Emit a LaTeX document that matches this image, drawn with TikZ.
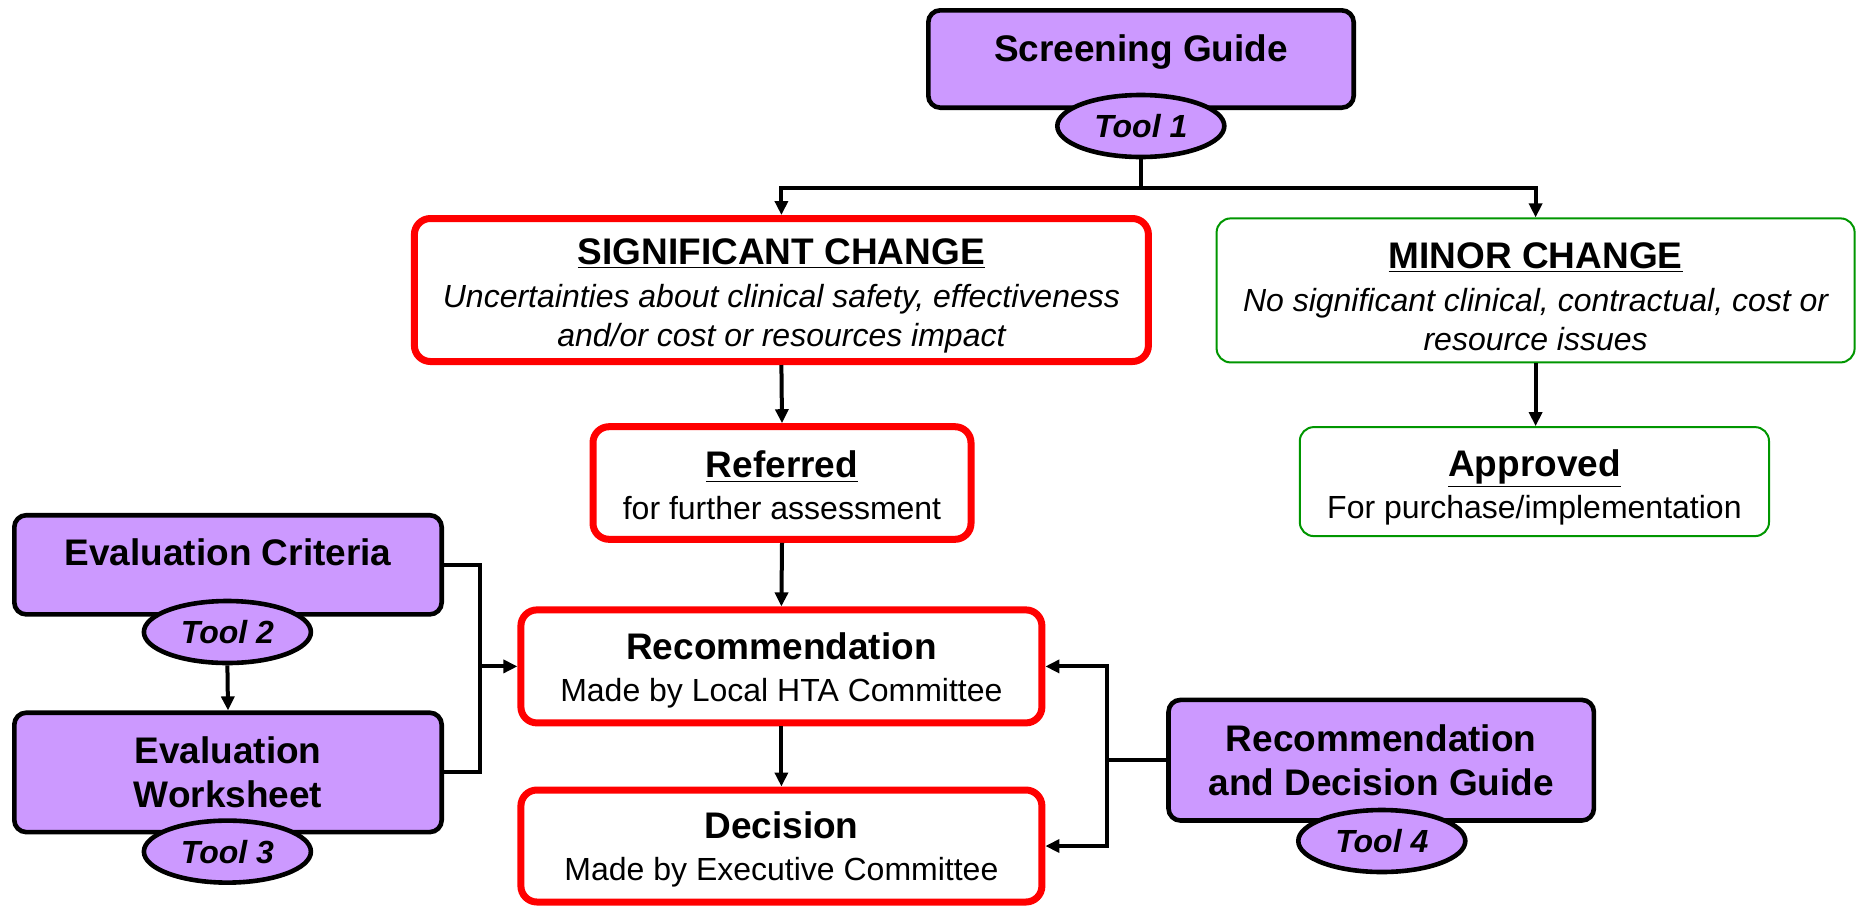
\documentclass[tikz,border=0pt]{standalone}
\usepackage{fontspec}
\setmainfont{Liberation Sans}
\usepackage{tikz}
\usetikzlibrary{shapes.geometric}
\usetikzlibrary{arrows.meta}
\definecolor{toolpurple}{RGB}{204,153,255}
\definecolor{okgreen}{RGB}{0,150,0}
\newcommand{\hdfont}{\fontsize{18.5}{22.2}\selectfont\bfseries}
\newcommand{\txfont}{\fontsize{16}{19.5}\selectfont}
\newcommand{\topgap}[1]{\rule{0pt}{#1}}

\begin{document}
\begin{tikzpicture}[x=1pt, y=-1pt,
  guidebox/.style={draw, line width=2.3pt, fill=toolpurple, rounded corners=6pt,
    align=center, font=\hdfont, inner sep=2pt},
  toolbox/.style={ellipse, draw, line width=2.3pt, fill=toolpurple, inner sep=0pt,
    minimum width=83.5pt, minimum height=31pt, font=\txfont\bfseries\itshape},
  redbox/.style={draw=red, line width=3.5pt, fill=white, rounded corners=8pt,
    align=center, font=\txfont, inner sep=2pt},
  greenbox/.style={draw=okgreen, line width=1pt, fill=white, rounded corners=7pt,
    align=center, font=\txfont, inner sep=2pt},
  wire/.style={line width=2pt},
  link/.style={line width=2pt, -{Triangle[length=7pt,width=6.5pt]}}]
  \useasboundingbox (0,0) rectangle (928.5,453);

  % top
  \node[guidebox, minimum width=212.7pt, minimum height=48.7pt, text depth=11pt]
    (screen) at (570.5,29.5) {Screening Guide};
  \node[toolbox] (tool1) at (570.4,63) {Tool 1};

  \node[redbox, minimum width=367pt, minimum height=71.5pt] (sig) at (390.7,145)
    {{\hdfont\topgap{19pt}\underline{SIGNIFICANT CHANGE}}\\[2pt]
     \itshape Uncertainties about clinical safety, effectiveness\\
     \itshape and/or cost or resources impact};
  \node[greenbox, minimum width=319pt, minimum height=72pt] (minor) at (767.8,145.2)
    {{\hdfont\topgap{19pt}\underline{MINOR CHANGE}}\\[2pt]
     \itshape No significant clinical, contractual, cost or\\
     \itshape resource issues};

  \node[redbox, minimum width=189pt, minimum height=56.3pt] (referred) at (391,241.5)
    {{\hdfont\topgap{16pt}\underline{Referred}}\\[1.5pt] for further assessment};
  \node[greenbox, minimum width=234.6pt, minimum height=54.5pt] (approved) at (767.2,240.8)
    {{\hdfont\topgap{19pt}\underline{Approved}}\\[1.5pt] For purchase/implementation};

  % middle
  \node[redbox, minimum width=260.5pt, minimum height=56.5pt] (rec) at (390.7,333.2)
    {{\hdfont\topgap{17pt}Recommendation}\\[1.5pt] Made by Local HTA Committee};
  \node[redbox, minimum width=260.5pt, minimum height=56pt] (dec) at (390.7,423)
    {{\hdfont\topgap{17pt}Decision}\\[1.5pt] Made by Executive Committee};

  % left tools
  \node[guidebox, minimum width=213.7pt, minimum height=49.6pt, text depth=12.5pt]
    (evalcrit) at (114,282.4) {Evaluation Criteria};
  \node[toolbox] (tool2) at (113.7,316) {Tool 2};
  \node[guidebox, minimum width=213.7pt, minimum height=59.7pt]
    (evalws) at (114,386.2) {Evaluation\\Worksheet};
  \node[toolbox] (tool3) at (113.7,425.8) {Tool 3};

  % right tool
  \node[guidebox, minimum width=212.7pt, minimum height=60.3pt]
    (rdg) at (690.6,380.1) {Recommendation\\and Decision Guide};
  \node[toolbox] (tool4) at (690.9,420.5) {Tool 4};

  % connectors
  \coordinate (split) at (570.4,94.1);
  \draw[wire] (tool1.south) -- (split);
  \draw[link] (split) -| (sig.north);
  \draw[link] (split) -| (minor.north);
  \draw[link] (sig.south) -- (referred.north);
  \draw[link] (minor.south) -- (minor.south |- approved.north);
  \draw[link] (referred.south) -- (rec.north);
  \draw[link] (rec.south) -- (dec.north);
  \draw[link] (tool2.south) -- (evalws.north);

  \coordinate (lbar) at (239.8,333.2);
  \draw[wire] (evalcrit.east) -| (lbar) |- (evalws.east);
  \draw[link] (lbar) -- (rec.west);

  \coordinate (rbar) at (553.5,380.1);
  \draw[wire] (rdg.west) -- (rbar);
  \draw[link] (rbar) |- (rec.east);
  \draw[link] (rbar) |- (dec.east);
\end{tikzpicture}
\end{document}
